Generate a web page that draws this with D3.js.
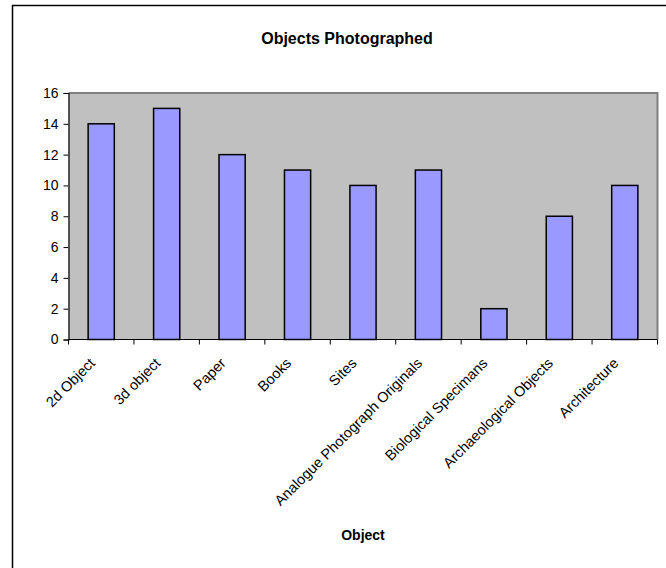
<!DOCTYPE html>
<html>
<head>
<meta charset="utf-8">
<script src="https://cdn.jsdelivr.net/npm/d3@7"></script>
<style>
  html, body { margin: 0; padding: 0; background: #fff; }
  svg { display: block; font-family: Arial, "Liberation Sans", sans-serif; }
</style>
</head>
<body>
<svg id="chart" width="666" height="568"></svg>
<script>
// Number of objects photographed per category
const categories = ["2d Object", "3d object", "Paper", "Books", "Sites",
  "Analogue Photograph Originals", "Biological Specimans",
  "Archaeological Objects", "Architecture"];
const counts = [14, 15, 12, 11, 10, 11, 2, 8, 10];
const yTicks = [0, 2, 4, 6, 8, 10, 12, 14, 16];

const svg = d3.select("#chart");

// Chart frame
svg.append("rect")
  .attr("x", 12.5).attr("y", 5.5)
  .attr("width", 700).attr("height", 600)
  .attr("fill", "#fff").attr("stroke", "#000").attr("stroke-width", 1.5);

const plot = { left: 68.5, right: 657.5, top: 93, bottom: 339.5 };

const x = d3.scaleBand()
  .domain(categories)
  .range([plot.left, plot.right])
  .paddingInner(0.6)
  .paddingOuter(0.3);

const y = d3.scaleLinear()
  .domain([0, 16])
  .range([plot.bottom, plot.top]);

// Plot area background
svg.append("rect")
  .attr("x", plot.left).attr("y", plot.top)
  .attr("width", plot.right - plot.left).attr("height", plot.bottom - plot.top)
  .attr("fill", "#c0c0c0");
svg.append("path")
  .attr("d", `M${plot.left},${plot.top}H${plot.right}V${plot.bottom}`)
  .attr("fill", "none").attr("stroke", "#808080").attr("stroke-width", 2);

// Bars
svg.append("g").selectAll("rect")
  .data(categories)
  .join("rect")
  .attr("x", d => x(d))
  .attr("y", (d, i) => y(counts[i]))
  .attr("width", x.bandwidth())
  .attr("height", (d, i) => y(0) - y(counts[i]))
  .attr("fill", "#9999ff")
  .attr("stroke", "#000")
  .attr("stroke-width", 1.5);

// Y axis
const yAxis = svg.append("g")
  .attr("transform", `translate(${plot.left},0)`)
  .call(d3.axisLeft(y).tickValues(yTicks).tickFormat(d3.format("d")).tickSize(5).tickPadding(5));
yAxis.select(".domain").attr("stroke", "#000").attr("stroke-width", 1.2);
yAxis.selectAll(".tick line").attr("stroke", "#000");
yAxis.selectAll(".tick text")
  .attr("font-size", 14).attr("fill", "#000")
  .attr("font-family", "Arial, 'Liberation Sans', sans-serif");

// X axis: ticks sit on category boundaries
const boundaries = d3.range(categories.length + 1).map(i => plot.left + i * (plot.right - plot.left) / categories.length);
const xAxisG = svg.append("g");
xAxisG.append("line")
  .attr("x1", plot.left).attr("x2", plot.right)
  .attr("y1", plot.bottom).attr("y2", plot.bottom)
  .attr("stroke", "#000").attr("stroke-width", 1.2);
xAxisG.selectAll("line.tk")
  .data(boundaries)
  .join("line")
  .attr("class", "tk")
  .attr("x1", d => d).attr("x2", d => d)
  .attr("y1", plot.bottom).attr("y2", plot.bottom + 5)
  .attr("stroke", "#000");

xAxisG.selectAll("text")
  .data(categories)
  .join("text")
  .attr("transform", d => `translate(${x(d) + x.bandwidth() / 2 - 9},${plot.bottom + 21}) rotate(-45)`)
  .attr("text-anchor", "end")
  .attr("dy", "0.35em")
  .attr("font-size", 14.5)
  .attr("fill", "#000")
  .text(d => d);

// Titles
svg.append("text")
  .attr("x", 347).attr("y", 44)
  .attr("text-anchor", "middle")
  .attr("font-size", 16).attr("font-weight", "bold")
  .text("Objects Photographed");

svg.append("text")
  .attr("x", (plot.left + plot.right) / 2).attr("y", 540)
  .attr("text-anchor", "middle")
  .attr("font-size", 14).attr("font-weight", "bold")
  .text("Object");
</script>
</body>
</html>
